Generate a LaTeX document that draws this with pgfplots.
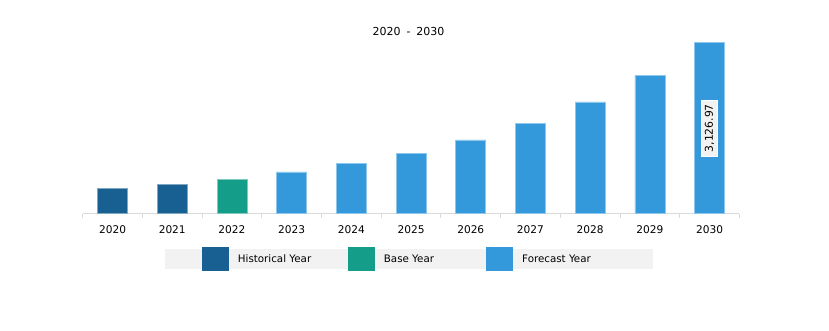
\documentclass[border=0pt]{standalone}
\usepackage{fontspec}
\setmainfont{DejaVu Sans}
\usepackage{pgfplots}
\pgfplotsset{compat=1.18}
\definecolor{hist}{RGB}{24,96,145}
\definecolor{basec}{RGB}{20,158,138}
\definecolor{fore}{RGB}{51,153,218}
\definecolor{axgray}{RGB}{217,217,217}
\definecolor{leggray}{RGB}{242,242,242}
\pgfplotsset{mybar/.style={ybar, bar width=30pt, bar shift=0pt, line width=0.7pt,
  legend image code/.code={\fill[##1, draw=none] (0pt,-12pt) rectangle (27pt,12pt);}}}
\begin{document}
\begin{tikzpicture}[x=1pt,y=1pt]
\useasboundingbox (0,0) rectangle (829,330);
\fill[leggray] (165,60.7) rectangle (652.7,81);
\node[font=\fontsize{11}{12}\selectfont] at (408.5,299) {2020\hspace{6pt}-\hspace{6pt}2030};
\begin{axis}[
  at={(82.7pt,116.3pt)}, anchor=south west,
  scale only axis, width=656.7pt, height=171pt,
  xmin=-0.5, xmax=10.5, ymin=0, ymax=3126.97,
  axis x line*=bottom, axis y line=none,
  x axis line style={draw=axgray, line width=1pt},
  xtick={0,...,10},
  xticklabels={2020,2021,2022,2023,2024,2025,2026,2027,2028,2029,2030},
  major x tick style={draw=none},
  minor xtick={-0.5,0.5,...,10.5},
  minor tick length=4pt, tick align=outside,
  minor x tick style={draw=axgray, line width=1pt},
  ytick=\empty,
  xticklabel style={font=\fontsize{10.6}{12}\selectfont, yshift=-4pt},
  legend columns=3,
  legend style={draw=none, fill=none, inner sep=0pt, column sep=0pt,
    nodes={inner sep=0pt}, at={(0.1812,-0.2649)}, anchor=west,
    font=\fontsize{10.3}{12}\selectfont},
]
\addplot[mybar, fill=hist, draw=hist!55!white] coordinates {(0,464) (1,538)};
\addlegendentry{\makebox[119pt][l]{\hspace{9pt}Historical Year}}
\addplot[mybar, fill=basec, draw=basec!55!white] coordinates {(2,635)};
\addlegendentry{\makebox[111.3pt][l]{\hspace{9pt}Base Year}}
\addplot[mybar, fill=fore, draw=fore!55!white] coordinates {(3,763) (4,922) (5,1110) (6,1348) (7,1653) (8,2043) (9,2524)};
\addlegendentry{\makebox[90pt][l]{\hspace{9pt}Forecast Year}}
\addplot[mybar, fill=fore, draw=fore!55!white, forget plot,
  nodes near coords={\pgfmathprintnumber[assume math mode=true,fixed,fixed zerofill,precision=2,1000 sep={,}]{\pgfplotspointmeta}},
  every node near coord/.append style={yshift=-85.5pt, rotate=90, anchor=center,
    fill=leggray, draw=white, line width=0.5pt, inner xsep=4pt, inner ysep=3.5pt,
    text=black, font=\fontsize{10.8}{12}\selectfont}]
  coordinates {(10,3126.97)};
\end{axis}
\end{tikzpicture}
\end{document}
